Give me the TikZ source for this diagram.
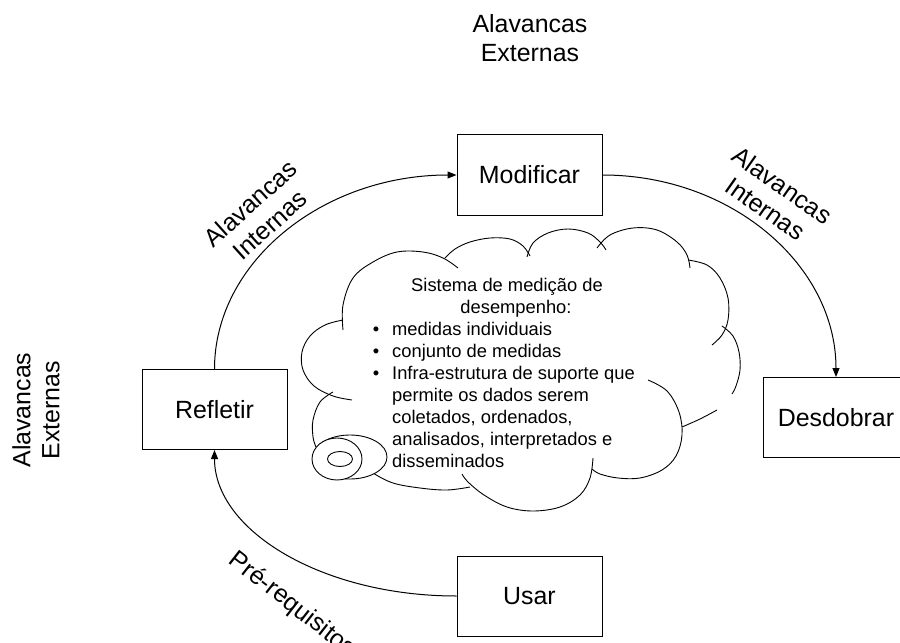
\documentclass[tikz,border=0pt]{standalone}
\usepackage{fontspec}
\setmainfont{Liberation Sans}
\usetikzlibrary{arrows.meta}

\tikzset{
  stage/.style={draw, line width=1bp, minimum width=145bp, minimum height=80bp,
    inner sep=0pt, font=\fontsize{25}{29}\selectfont},
  lever/.style={align=center, inner sep=0pt, font=\fontsize{25}{29}\selectfont},
  flow/.style={line width=1bp, -{Triangle[length=9bp,width=7bp]}},
  puff/.style={line width=0.9bp},
  ctext/.style={inner sep=0pt, font=\fontsize{18.4}{22}\selectfont},
  bubble/.style={line width=0.9bp, draw, fill=white}
}

\begin{document}
\begin{tikzpicture}[x=1bp, y=-1bp]
\useasboundingbox (0,0) rectangle (900,643);

% process stages
\node[stage] (modi) at (529.5,175) {Modificar};
\node[stage] (desd) at (836,417.5) {Desdobrar};
\node[stage] (refl) at (214.5,409.5) {Refletir};
\node[stage] (usar) at (529.5,596) {Usar};

% cycle connectors (quarter ellipses)
\draw[flow] (refl.north) .. controls +(0,-106.6) and +(-134.2,0) .. (modi.west);
\draw[flow] (modi.east) .. controls +(129.2,0) and +(0,-111.6) .. (desd.north);
\draw[flow] (usar.west) .. controls +(-134.2,0) and +(0,80.6) .. (refl.south);

% lever labels
\node[lever] (extTop) at (530,38) {Alavancas\\Externas};
\node[lever, rotate=90] (extLeft) at (36,410) {Alavancas\\Externas};
\node[lever, rotate=42] (intLeft) at (260,214) {Alavancas\\Internas};
\node[lever, rotate=-35] (intRight) at (774,197) {Alavancas\\Internas};
\node[lever, rotate=-38] (prereq) at (292,605) {Pré-requisitos};

% cloud outline, lobe by lobe
\begin{scope}[puff]
\draw plot[smooth, tension=0.6] coordinates {(352,400) (333,396) (314,386) (303,370) (302,352) (310,336) (325,325) (343,320)};
\draw plot[smooth, tension=0.6] coordinates {(343,330) (343,305) (353,278) (373,262) (397,252) (423,252) (443,258) (458,268)};
\draw plot[smooth, tension=0.6] coordinates {(445,258) (455,249) (470,242) (490,238) (510,239) (523,246) (530,256)};
\draw plot[smooth, tension=0.6] coordinates {(527,257) (533,243) (548,233) (568,229) (588,233) (600,242) (606,250)};
\draw plot[smooth, tension=0.6] coordinates {(597,248) (610,235) (633,228) (657,230) (677,242) (687,255) (690,268)};
\draw plot[smooth, tension=0.6] coordinates {(688,260) (707,265) (720,278) (728,298) (728,320) (722,335) (712,345)};
\draw plot[smooth, tension=0.6] coordinates {(722,326) (733,336) (739,352) (740,370) (736,386) (732,394)};
\draw plot[smooth, tension=0.6] coordinates {(717,410) (700,419) (682,427)};
\draw plot[smooth, tension=0.6] coordinates {(648,380) (667,391) (679,412) (682,435) (676,456) (662,470) (640,478) (618,478) (600,474) (592,469)};
\draw plot[smooth, tension=0.6] coordinates {(593,458) (590,478) (580,495) (560,507) (533,511) (507,507) (484,495) (468,482) (462,474)};
\draw plot[smooth, tension=0.6] coordinates {(470,487) (447,490) (420,488) (393,483) (373,473) (365,466)};
\draw plot[smooth, tension=0.6] coordinates {(333,392) (320,402) (313,420) (313,437) (316,447)};
\end{scope}

% thought bubbles
\draw[bubble] (350,457) ellipse [x radius=37, y radius=22];
\draw[bubble] (337,459) ellipse [x radius=25, y radius=21];
\draw[bubble] (340,459) ellipse [x radius=12.5, y radius=7.5];

% cloud text
\node[ctext, anchor=base] (t1) at (507,291.5) {Sistema de medição de};
\node[ctext, anchor=base] (t2) at (516,313.5) {desempenho:};
\node[ctext, anchor=base] (b1) at (376,335.5) {•};
\node[ctext, anchor=base west] (i1) at (392,335.5) {medidas individuais};
\node[ctext, anchor=base] (b2) at (376,357.5) {•};
\node[ctext, anchor=base west] (i2) at (392,357.5) {conjunto de medidas};
\node[ctext, anchor=base] (b3) at (376,379.5) {•};
\node[ctext, anchor=base west] (i3) at (392,379.5) {Infra-estrutura de suporte que};
\node[ctext, anchor=base west] (i4) at (392,401.5) {permite os dados serem};
\node[ctext, anchor=base west] (i5) at (392,423.5) {coletados, ordenados,};
\node[ctext, anchor=base west] (i6) at (392,445.5) {analisados, interpretados e};
\node[ctext, anchor=base west] (i7) at (392,467.5) {disseminados};

\end{tikzpicture}
\end{document}
